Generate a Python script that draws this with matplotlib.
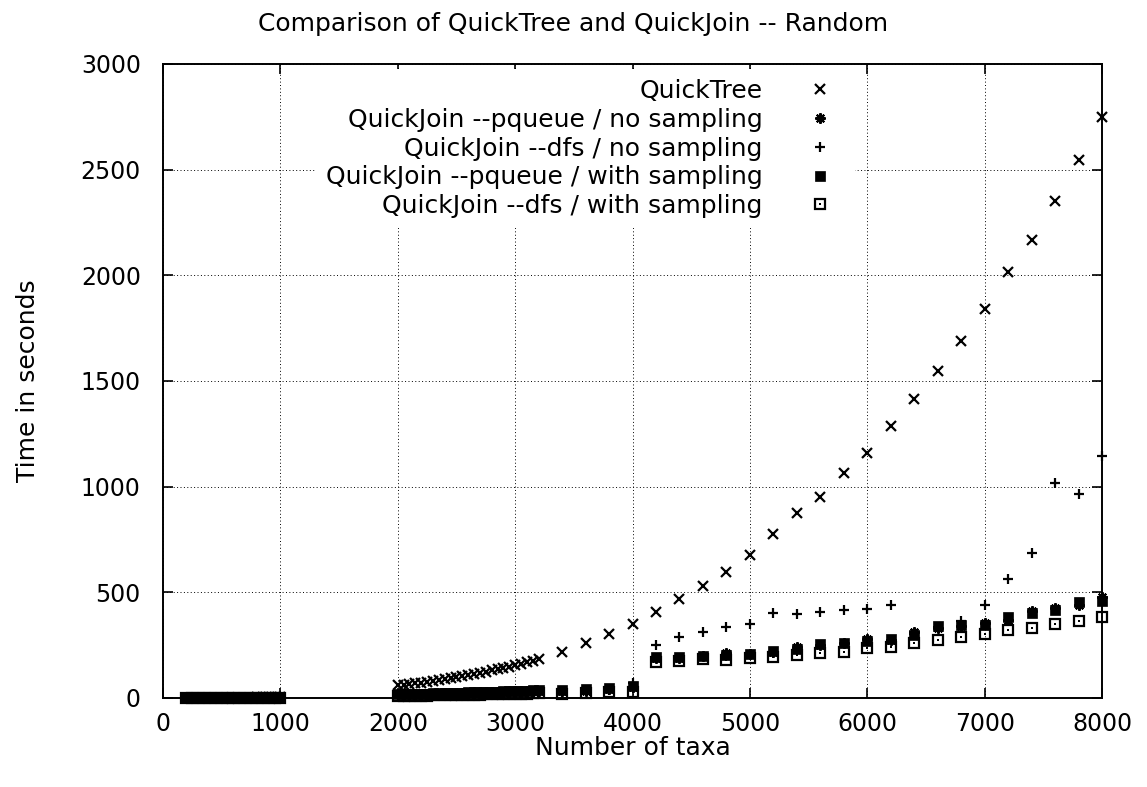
import matplotlib
matplotlib.use("Agg")
from matplotlib import pyplot as plt

plt.rcParams['font.family'] = ['DejaVu Sans']

# number of taxa
taxa = [200, 250, 300, 350, 400, 450, 500, 550, 600, 650, 700, 750, 800, 850, 900, 950, 1000,
        2000, 2050, 2100, 2150, 2200, 2250, 2300, 2350, 2400, 2450, 2500, 2550, 2600, 2650,
        2700, 2750, 2800, 2850, 2900, 2950, 3000, 3050, 3100, 3150, 3200,
        3400, 3600, 3800, 4000, 4200, 4400, 4600, 4800, 5000, 5200, 5400, 5600, 5800, 6000,
        6200, 6400, 6600, 6800, 7000, 7200, 7400, 7600, 7800, 8000]

quicktree = [0.1, 0.1, 0.2, 0.3, 0.4, 0.5, 0.7, 0.9, 1.2, 1.5, 1.8, 2.2, 2.7, 3.2, 3.8, 4.5, 5.3,
             60, 63, 66, 70, 73, 77, 81, 85, 89, 94, 99, 104, 109, 114,
             119, 125, 131, 137, 143, 149, 156, 163, 169, 176, 183,
             218, 259, 301, 350, 407, 467, 531, 598, 678, 776, 874, 953, 1063, 1161,
             1289, 1413, 1547, 1689, 1839, 2016, 2167, 2350, 2546, 2748]

pqueue_nosamp = [0.1, 0.1, 0.1, 0.2, 0.2, 0.3, 0.4, 0.5, 0.6, 0.7, 0.9, 1.0, 1.2, 1.4, 1.6, 1.9, 2.2,
                 17, 18, 18, 19, 19, 20, 21, 21, 22, 23, 23, 24, 25, 26,
                 26, 27, 28, 29, 30, 31, 31, 32, 33, 34, 35,
                 32, 35, 42, 50, 190, 188, 200, 212, 208, 218, 240, 250, 258, 278,
                 275, 310, 330, 340, 355, 370, 412, 425, 440, 478]

dfs_nosamp = [0.1, 0.1, 0.1, 0.2, 0.2, 0.3, 0.3, 0.4, 0.5, 0.6, 0.8, 0.9, 1.1, 1.3, 1.5, 1.7, 2.0,
              16, 17, 17, 18, 19, 19, 20, 21, 21, 22, 23, 23, 24, 25,
              26, 27, 27, 28, 29, 30, 31, 32, 33, 33, 34,
              30, 33, 40, 70, 251, 290, 312, 334, 350, 401, 397, 408, 416, 423,
              440, 305, 335, 362, 440, 562, 685, 1016, 965, 1145]

pqueue_samp = [0.1, 0.1, 0.2, 0.2, 0.3, 0.3, 0.4, 0.5, 0.6, 0.8, 0.9, 1.1, 1.3, 1.5, 1.7, 2.0, 2.3,
               18, 18, 19, 20, 20, 21, 22, 22, 23, 24, 25, 25, 26, 27,
               28, 29, 29, 30, 31, 32, 33, 34, 35, 36, 37,
               40, 42, 45, 55, 193, 192, 200, 205, 210, 220, 230, 255, 260, 268,
               280, 300, 340, 345, 345, 385, 400, 415, 453, 460]

dfs_samp = [0.1, 0.1, 0.1, 0.1, 0.2, 0.2, 0.3, 0.3, 0.4, 0.5, 0.6, 0.7, 0.8, 0.9, 1.0, 1.2, 1.4,
            9, 9, 10, 10, 11, 11, 12, 12, 13, 13, 14, 14, 15, 15,
            16, 17, 17, 18, 18, 19, 20, 20, 21, 22, 22,
            20, 22, 28, 30, 172, 175, 183, 180, 188, 195, 203, 214, 219, 235,
            243, 259, 274, 290, 301, 322, 333, 349, 364, 385]

labels = ['QuickTree',
          'QuickJoin --pqueue / no sampling',
          'QuickJoin --dfs / no sampling',
          'QuickJoin --pqueue / with sampling',
          'QuickJoin --dfs / with sampling']

fs = 18      # titles and legend
fs_tick = 17

fig = plt.figure(figsize=(11.47, 7.87), dpi=100)
ax = fig.add_axes([0.1421, 0.1131, 0.8187, 0.8056])

kw = dict(linestyle='none', color='black', clip_on=False, zorder=3)
h1, = ax.plot(taxa, quicktree, marker='x', markersize=7.5, markeredgewidth=1.6, **kw)
h2, = ax.plot(taxa, pqueue_nosamp, marker=(8, 2, 0), markersize=7.5, markeredgewidth=1.5, **kw)
h3, = ax.plot(taxa, dfs_nosamp, marker='+', markersize=7.5, markeredgewidth=1.6, **kw)
h4, = ax.plot(taxa, pqueue_samp, marker='s', markersize=7, markeredgewidth=0.5, **kw)
h5a, = ax.plot(taxa, dfs_samp, marker='s', markersize=7, markerfacecolor='none',
               markeredgewidth=1.6, **kw)
h5b, = ax.plot(taxa, dfs_samp, marker='s', markersize=1.7, markeredgewidth=0, **kw)

ax.set_xlim(0, 8000)
ax.set_ylim(0, 3000)
ax.set_xticks(range(0, 8001, 1000))
ax.set_yticks(range(0, 3001, 500))

ax.grid(True, color='black', linestyle=(0, (1, 2.5)), linewidth=0.7)
ax.set_axisbelow(True)
for s in ax.spines.values():
    s.set_linewidth(1.4)
ax.tick_params(direction='in', length=7, width=1.2, top=True, right=True, labelsize=fs_tick)
ax.tick_params(axis='y', pad=16)
ax.tick_params(axis='x', pad=10)

leg = ax.legend([h1, h2, h3, h4, (h5a, h5b)], labels, loc='upper right',
                bbox_to_anchor=(0.737, 0.992), borderaxespad=0, markerfirst=False,
                handletextpad=1.3, labelspacing=0.19, fontsize=fs, frameon=True,
                fancybox=False, framealpha=1, facecolor='white', edgecolor='none',
                borderpad=0.4)
leg.set_zorder(2.5)

fig.text(0.5, 0.970, 'Comparison of QuickTree and QuickJoin -- Random', ha='center',
         va='center', fontsize=fs)
fig.text(0.5518, 0.0495, 'Number of taxa', ha='center', va='center', fontsize=fs)
fig.text(0.0244, 0.516, 'Time in seconds', ha='center', va='center', rotation=90, fontsize=fs)

fig.savefig('out.png', dpi=100)
